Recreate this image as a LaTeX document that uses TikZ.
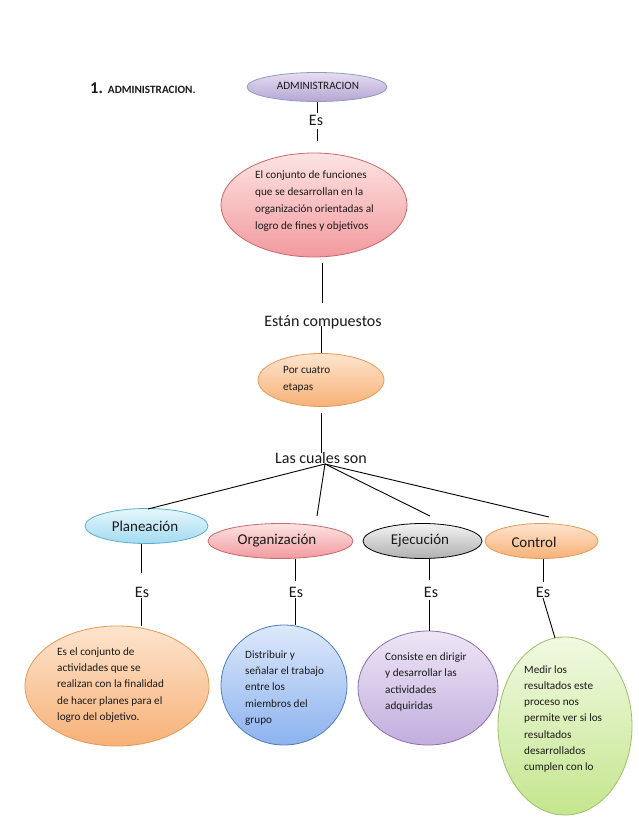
\documentclass[tikz,border=0pt]{standalone}
\usepackage{fontspec}
\setmainfont{Carlito}
\usetikzlibrary{shapes.geometric}
\definecolor{txt}{HTML}{1A1A1A}
\tikzset{
  ell/.style={ellipse, draw, line width=0.8pt, inner sep=0pt},
  lavell/.style={ell, top color=lavT, bottom color=lavB, draw=lavD},
  pinkell/.style={ell, top color=pinkT, bottom color=pinkB, draw=pinkD},
  orell/.style={ell, top color=orT, bottom color=orB, draw=orD},
  ltblueell/.style={ell, top color=lbT, bottom color=lbB, draw=lbD},
  grayell/.style={ell, top color=grT, bottom color=grB, draw=black},
  blueell/.style={ell, top color=blT, bottom color=blB, draw=blD},
  purpell/.style={ell, top color=puT, bottom color=puB, draw=puD},
  greenell/.style={ell, top color=gnT, bottom color=gnB, draw=gnD},
  biglab/.style={inner sep=0pt, text=txt, font=\fontsize{16}{18}\selectfont},
  midlab/.style={inner sep=0pt, text=txt, font=\fontsize{15}{18}\selectfont},
  smalltxt/.style={inner sep=0pt, anchor=west, align=left, text=txt, font=\fontsize{11.2}{17}\selectfont},
  bottxt/.style={inner sep=0pt, anchor=west, align=left, text=txt, font=\fontsize{11.2}{16.3}\selectfont},
  conn/.style={draw=black, line width=0.9pt}
}
\definecolor{lavT}{HTML}{E6DEF2}\definecolor{lavB}{HTML}{B5A5D3}\definecolor{lavD}{HTML}{8E9CC0}
\definecolor{pinkT}{HTML}{FDE3E3}\definecolor{pinkB}{HTML}{F29A9E}\definecolor{pinkD}{HTML}{C9686B}
\definecolor{orT}{HTML}{FDE4CE}\definecolor{orB}{HTML}{F7B177}\definecolor{orD}{HTML}{E49A57}
\definecolor{lbT}{HTML}{E6F6FC}\definecolor{lbB}{HTML}{A3DBF0}\definecolor{lbD}{HTML}{5CAECA}
\definecolor{grT}{HTML}{F4F4F4}\definecolor{grB}{HTML}{B0B0B0}
\definecolor{blT}{HTML}{DDE9FB}\definecolor{blB}{HTML}{8CB2EE}\definecolor{blD}{HTML}{4F7DBA}
\definecolor{puT}{HTML}{EEE6F6}\definecolor{puB}{HTML}{C2ADDD}\definecolor{puD}{HTML}{8B70AE}
\definecolor{gnT}{HTML}{F1F9E2}\definecolor{gnB}{HTML}{C4E68E}\definecolor{gnD}{HTML}{9CC064}
\begin{document}
\begin{tikzpicture}[x=1pt, y=-1pt]
\useasboundingbox[fill=white] (0,0) rectangle (638,826);

% title
\node[anchor=west, inner sep=0pt, text=txt] (title) at (90,88)
  {\fontsize{16.5}{18}\selectfont\bfseries 1.\hspace{5pt}\fontsize{11.2}{12}\selectfont ADMINISTRACION.};

% top chain
\node[lavell, minimum width=140, minimum height=29] (admin) at (317,87) {};
\node[inner sep=0pt, text=txt, font=\fontsize{11.2}{13}\selectfont] (admintxt) at (318,86) {ADMINISTRACION};
\node[biglab] (es0) at (316,120) {Es};

\node[pinkell, minimum width=186, minimum height=104] (def) at (314,205) {};
\node[smalltxt] (deftxt) at (255,201) {El conjunto de funciones\\que se desarrollan en la\\organización orientadas al\\logro de fines y objetivos};

\node[biglab] (comp) at (323,322) {Están compuestos};

\node[orell, minimum width=126, minimum height=53] (etapas) at (321,380) {};
\node[smalltxt] (etapastxt) at (283,379) {Por cuatro\\etapas};

\node[biglab] (cuales) at (321,458) {Las cuales son};

% second row
\node[ltblueell, minimum width=123, minimum height=35] (plan) at (146.5,526) {};
\node[midlab] (plantxt) at (145,526) {Planeación};
\node[pinkell, minimum width=145, minimum height=35] (org) at (280.5,541) {};
\node[midlab] (orgtxt) at (277,541) {Organización};
\node[grayell, minimum width=119, minimum height=35] (eje) at (422.5,541) {};
\node[midlab] (ejetxt) at (420,541) {Ejecución};
\node[orell, minimum width=113, minimum height=35] (con) at (541.5,541) {};
\node[midlab] (contxt) at (534,542) {Control};

\node[biglab] (es1) at (142,592) {Es};
\node[biglab] (es2) at (296,592) {Es};
\node[biglab] (es3) at (431,592) {Es};
\node[biglab] (es4) at (543,592) {Es};

% bottom row
\node[orell, minimum width=184, minimum height=120] (bplan) at (117,686) {};
\node[bottxt] (bplantxt) at (57,685) {Es el conjunto de\\actividades que se\\realizan con la finalidad\\de hacer planes para el\\logro del objetivo.};
\node[blueell, minimum width=126, minimum height=120] (borg) at (284,685) {};
\node[bottxt] (borgtxt) at (245,688) {Distribuir y\\señalar el trabajo\\entre los\\miembros del\\grupo};
\node[purpell, minimum width=140, minimum height=114] (beje) at (428,688) {};
\node[bottxt] (bejetxt) at (385,682) {Consiste en dirigir\\y desarrollar las\\actividades\\adquiridas};
\node[greenell, minimum width=134, minimum height=178] (bcon) at (565,726) {};
\node[bottxt] (bcontxt) at (524,719) {Medir los\\resultados este\\proceso nos\\permite ver si los\\resultados\\desarrollados\\cumplen con lo};

% connector coordinates
\coordinate (a1) at (317,113);
\coordinate (a2) at (317,129);
\coordinate (a3) at (317,141);
\coordinate (b1) at (322,263);
\coordinate (b2) at (322,303);
\coordinate (b3) at (321,326);
\coordinate (d1) at (321,413);
\coordinate (d2) at (321,453);
\coordinate (hub) at (325,464);
\coordinate (hp) at (148,509);
\coordinate (ho) at (317,516);
\coordinate (he) at (430,516);
\coordinate (hc) at (549,517);
\coordinate (p1) at (141,544);
\coordinate (p2) at (141,573);
\coordinate (p3) at (141,598);
\coordinate (o1) at (295,559);
\coordinate (o2) at (295,581);
\coordinate (o3) at (295,598);
\coordinate (e1) at (429,559);
\coordinate (e2) at (429,580);
\coordinate (e3) at (429,600);
\coordinate (k1) at (543,559);
\coordinate (k2) at (543,582);
\coordinate (k3) at (543,598);
\coordinate (k4) at (555,638);

\draw[conn] (admin.south) -- (a1);
\draw[conn] (a2) -- (a3);
\draw[conn] (b1) -- (b2);
\draw[conn] (b3) -- (etapas.north);
\draw[conn] (d1) -- (d2);
\draw[conn] (hub) -- (hp);
\draw[conn] (hub) -- (ho);
\draw[conn] (hub) -- (he);
\draw[conn] (hub) -- (hc);
\draw[conn] (p1) -- (p2);
\draw[conn] (p3) -- (p3 |- bplan.north);
\draw[conn] (o1) -- (o2);
\draw[conn] (o3) -- (borg.north -| o3);
\draw[conn] (e1) -- (e2);
\draw[conn] (e3) -- (beje.north -| e3);
\draw[conn] (k1) -- (k2);
\draw[conn] (k3) -- (k4);
\end{tikzpicture}
\end{document}
